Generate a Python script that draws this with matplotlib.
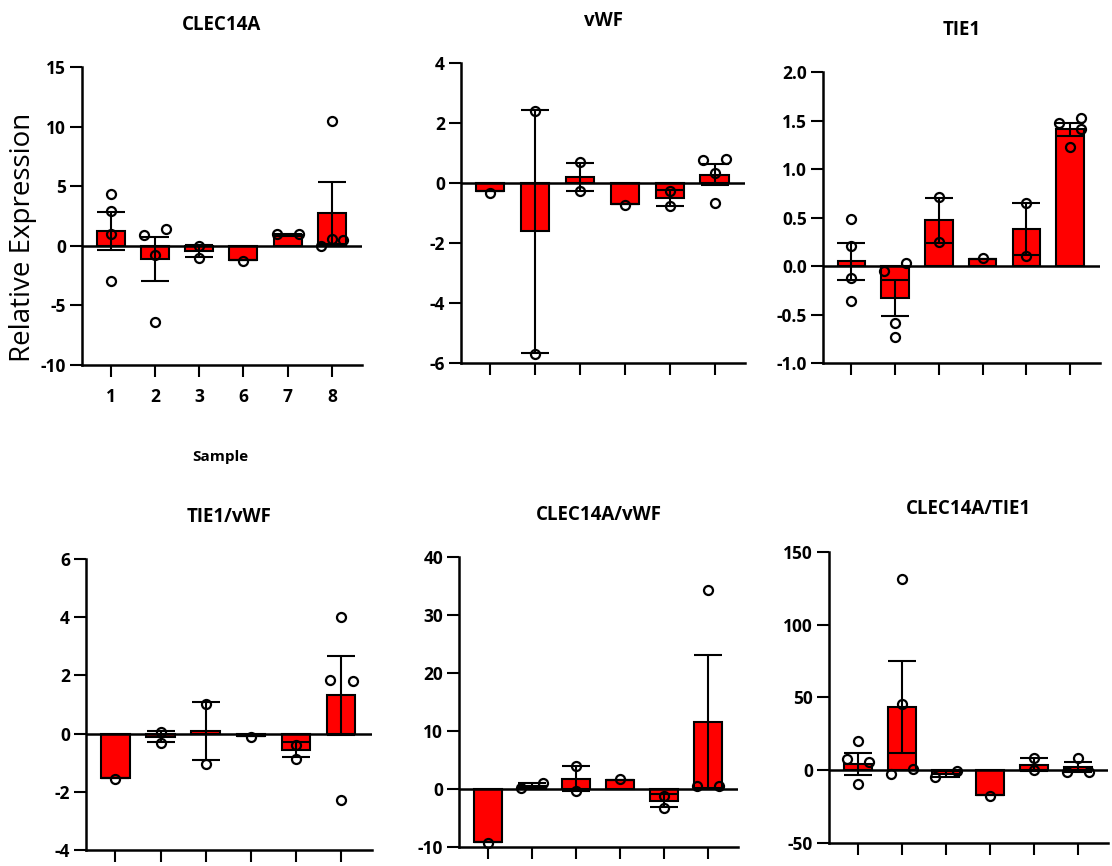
import numpy as np
import matplotlib
matplotlib.use("Agg")
import matplotlib.pyplot as plt

plt.rcParams['font.family'] = ['Open Sans', 'DejaVu Sans']
plt.rcParams['axes.unicode_minus'] = False

samples = ["1", "2", "3", "6", "7", "8"]

# bar heights and error (SEM)
clec_mean = [1.26, -1.1, -0.42, -1.17, 0.9, 2.74]
clec_err = [1.6, 1.85, 0.5, 0.0, 0.05, 2.62]
vwf_mean = [-0.28, -1.6, 0.19, -0.7, -0.5, 0.28]
vwf_err = [0.0, 4.05, 0.47, 0.0, 0.26, 0.35]
tie_mean = [0.05, -0.33, 0.47, 0.07, 0.38, 1.41]
tie_err = [0.19, 0.19, 0.23, 0.0, 0.27, 0.065]
tie_vwf_mean = [-1.52, -0.11, 0.08, -0.07, -0.55, 1.31]
tie_vwf_err = [0.0, 0.19, 1.0, 0.0, 0.25, 1.37]
clec_vwf_mean = [-9.1, 0.6, 1.78, 1.5, -2.0, 11.6]
clec_vwf_err = [0.0, 0.4, 2.2, 0.0, 1.06, 11.5]
clec_tie_mean = [4.5, 43.4, -2.6, -16.8, 3.9, 2.3]
clec_tie_err = [7.5, 31.5, 2.0, 0.0, 4.2, 3.2]

# individual points: (sample index, x offset, value)
clec_pts = [(0, 0, 4.33), (0, 0, 2.9), (0, 0, 1.03), (0, 0, -2.93),
            (1, -0.25, 0.9), (1, 0.25, 1.45), (1, 0, -0.78), (1, 0, -6.42),
            (2, 0, 0.0), (2, 0, -1.0),
            (3, 0, -1.3),
            (4, -0.25, 0.95), (4, 0.25, 0.95),
            (5, 0, 10.47), (5, -0.25, -0.05), (5, 0, 0.6), (5, 0.25, 0.45)]
vwf_pts = [(0, 0, -0.33),
           (1, 0, 2.41), (1, 0, -5.7),
           (2, 0, 0.7), (2, 0, -0.26),
           (3, 0, -0.74),
           (4, 0, -0.26), (4, 0, -0.78),
           (5, -0.25, 0.78), (5, 0.25, 0.8), (5, 0, 0.33), (5, 0, -0.67)]
tie_pts = [(0, 0, 0.48), (0, 0, 0.21), (0, 0, -0.12), (0, 0, -0.36),
           (1, -0.25, -0.05), (1, 0.25, 0.03), (1, 0, -0.59), (1, 0, -0.73),
           (2, 0, 0.71), (2, 0, 0.25),
           (3, 0, 0.08),
           (4, 0, 0.65), (4, 0, 0.1),
           (5, -0.25, 1.47), (5, 0.25, 1.53), (5, 0.25, 1.41), (5, 0, 1.23)]
tie_vwf_pts = [(0, 0, -1.55),
               (1, 0, 0.06), (1, 0, -0.32),
               (2, 0, 1.0), (2, 0, -1.03),
               (3, 0, -0.13),
               (4, 0, -0.38), (4, 0, -0.87),
               (5, 0, 4.01), (5, -0.25, 1.83), (5, 0.25, 1.82), (5, 0, -2.29)]
clec_vwf_pts = [(0, 0, -9.3),
                (1, -0.25, 0.2), (1, 0.25, 1.0),
                (2, 0, 4.0), (2, 0, -0.4),
                (3, 0, 1.78),
                (4, 0, -1.15), (4, 0, -3.27),
                (5, 0, 34.3), (5, -0.25, 0.57), (5, 0.25, 0.57)]
clec_tie_pts = [(0, 0, 20.0), (0, -0.25, 8.0), (0, 0.25, 5.5), (0, 0, -9.4),
                (1, 0, 131.3), (1, 0, 45.2), (1, -0.25, -2.5), (1, 0.25, 0.5),
                (2, -0.25, -4.6), (2, 0.25, -0.7),
                (3, 0, -17.5),
                (4, 0, 8.5), (4, 0, 0.0),
                (5, -0.25, -0.9), (5, 0, 8.5), (5, 0.25, -0.9)]

panels = [
    ("CLEC14A", clec_mean, clec_err, clec_pts, (-10, 15), [-10, -5, 0, 5, 10, 15],
     [0.0737, 0.5785, 0.2518, 0.3441]),
    ("vWF", vwf_mean, vwf_err, vwf_pts, (-6, 4), [-6, -4, -2, 0, 2, 4],
     [0.4146, 0.5808, 0.2554, 0.3464]),
    ("TIE1", tie_mean, tie_err, tie_pts, (-1, 2), [-1.0, -0.5, 0.0, 0.5, 1.0, 1.5, 2.0],
     [0.7401, 0.5808, 0.2491, 0.3360]),
    ("TIE1/vWF", tie_vwf_mean, tie_vwf_err, tie_vwf_pts, (-4, 6), [-4, -2, 0, 2, 4, 6],
     [0.0773, 0.0185, 0.2572, 0.3360]),
    ("CLEC14A/vWF", clec_vwf_mean, clec_vwf_err, clec_vwf_pts, (-10, 40), [-10, 0, 10, 20, 30, 40],
     [0.4128, 0.0219, 0.2509, 0.3349]),
    ("CLEC14A/TIE1", clec_tie_mean, clec_tie_err, clec_tie_pts, (-50, 150), [-50, 0, 50, 100, 150],
     [0.7455, 0.0266, 0.2509, 0.3360]),
]

fig = plt.figure(figsize=(11.12, 8.66), dpi=100)

for k, (title, means, errs, pts, ylim, yticks, rect) in enumerate(panels):
    ax = fig.add_axes(rect)
    x = np.arange(len(samples))
    ax.bar(x, means, width=0.63, color="#ff0000", edgecolor="black", linewidth=1.5, zorder=2)
    ax.axhline(0, color="black", linewidth=1.8, zorder=3)
    ax.errorbar(x, means, yerr=errs, fmt="none", ecolor="black", elinewidth=1.5,
                capsize=10, capthick=1.5, zorder=4)
    px = [p[0] + p[1] for p in pts]
    py = [p[2] for p in pts]
    ax.plot(px, py, "o", markersize=6.5, markerfacecolor="none", markeredgecolor="black",
            markeredgewidth=1.6, zorder=5, clip_on=False)

    ax.set_xlim(-0.65, 5.68)
    ax.set_ylim(*ylim)
    ax.set_yticks(yticks)
    if k == 2:
        ax.set_yticklabels([f"{t:.1f}" for t in yticks])
    ax.set_xticks(x)
    if k == 0:
        ax.set_xticklabels(samples)
    else:
        ax.set_xticklabels([])
    for s in ["top", "right"]:
        ax.spines[s].set_visible(False)
    for s in ["left", "bottom"]:
        ax.spines[s].set_linewidth(1.8)
    ax.tick_params(axis="both", direction="out", length=8.5, width=1.5, labelsize=12.5, pad=3)
    ax.tick_params(axis="x", pad=8)
    for lab in ax.get_xticklabels() + ax.get_yticklabels():
        lab.set_fontweight("bold")
    ax.set_title(title, fontsize=13.5, fontweight="bold", pad=27)

fig.text(23 / 1112, 1 - 237 / 866, "Relative Expression", rotation=90,
         ha="center", va="center", fontsize=20)
fig.text(220 / 1112, 1 - 457 / 866, "Sample", ha="center", va="center",
         fontsize=11, fontweight="bold")

fig.savefig("out.png", dpi=100)
